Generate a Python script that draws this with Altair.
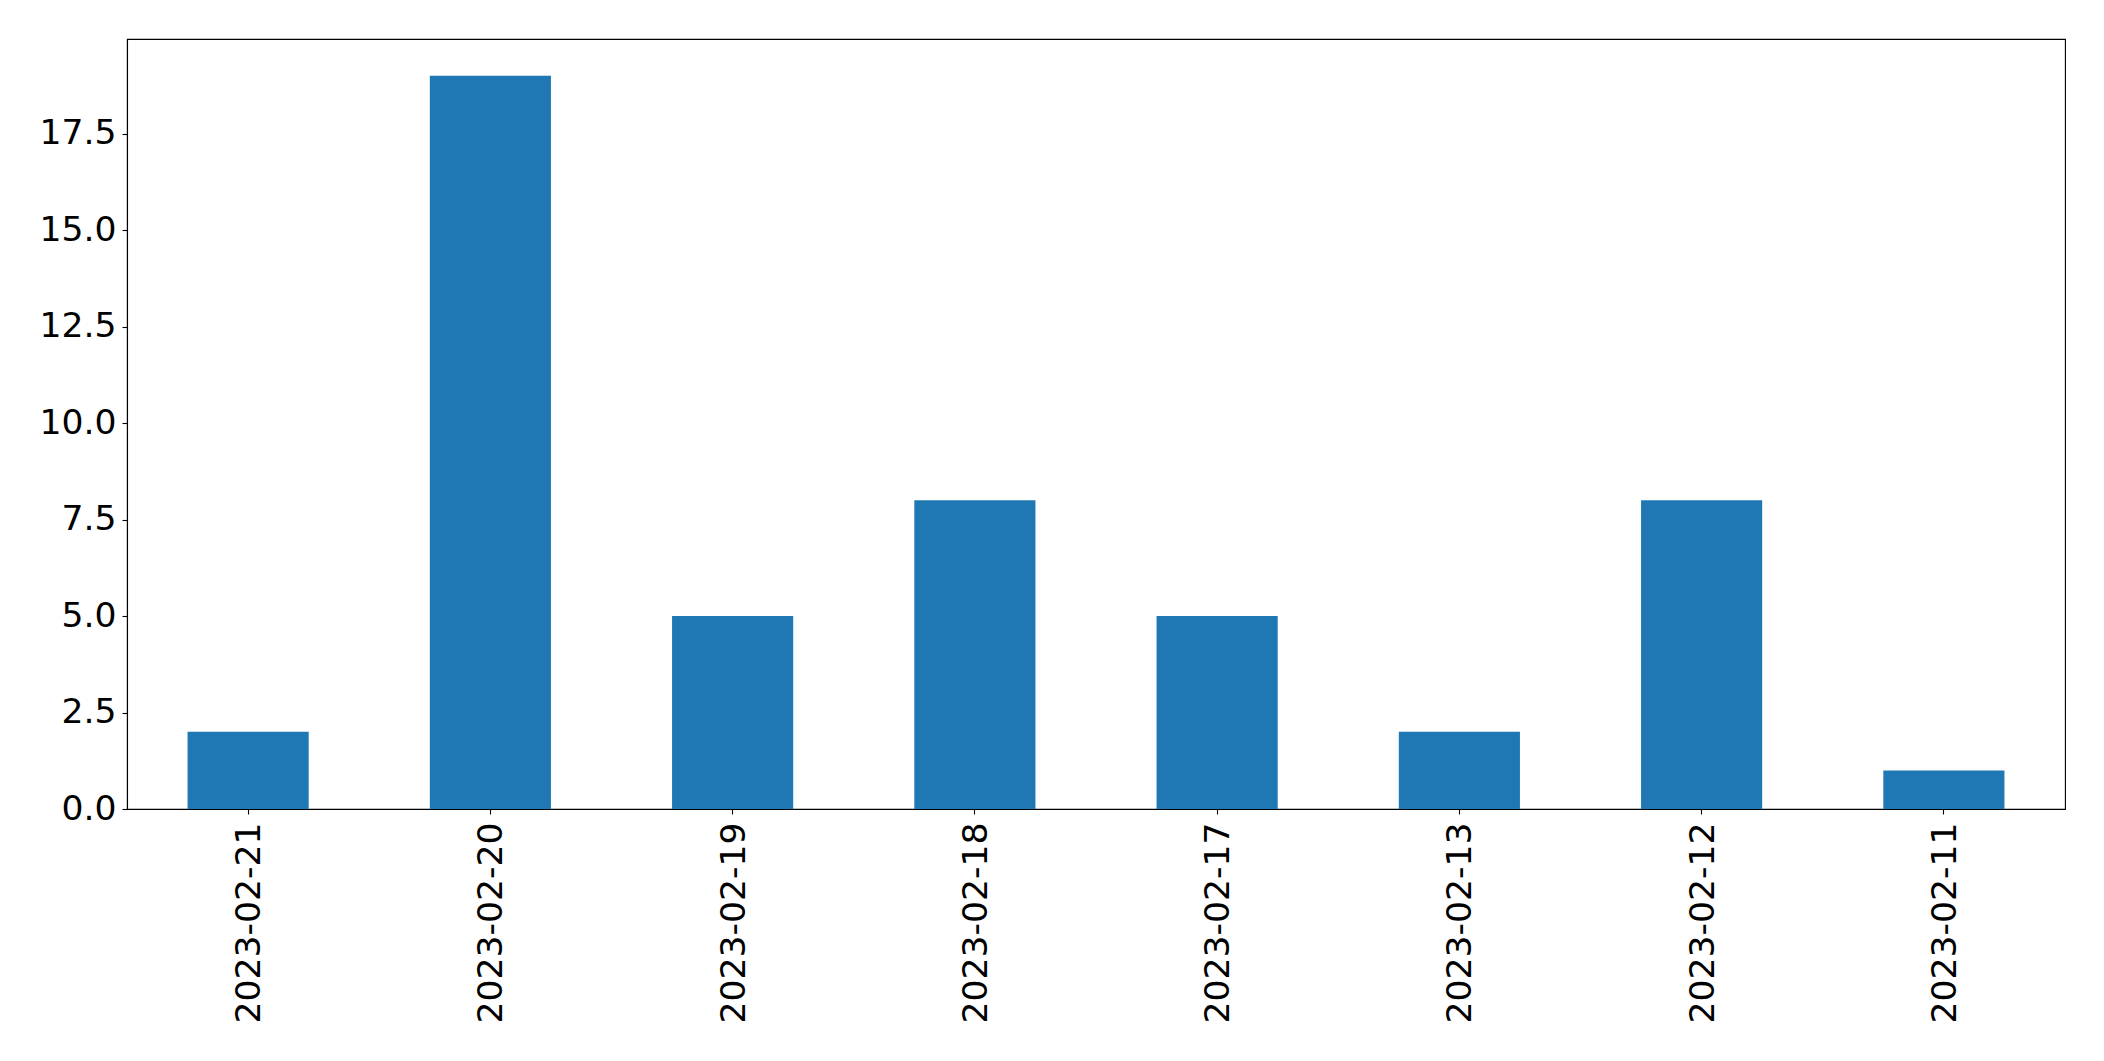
import altair as alt
import pandas as pd

dates = ["2023-02-21", "2023-02-20", "2023-02-19", "2023-02-18",
         "2023-02-17", "2023-02-13", "2023-02-12", "2023-02-11"]
counts = [2, 19, 5, 8, 5, 2, 8, 1]
y_ticks = [0, 2.5, 5, 7.5, 10, 12.5, 15, 17.5]

df = pd.DataFrame({"date": dates, "count": counts})

FONT = "DejaVu Sans"
FS = 34.6

chart = alt.Chart(df).mark_bar(color="#1f77b4").encode(
    x=alt.X("date:N", sort=None, title=None,
            scale=alt.Scale(paddingInner=0.5, paddingOuter=0.25),
            axis=alt.Axis(labelAngle=270, labelFontSize=FS, labelFont=FONT,
                          labelColor="black", tickColor="black", tickSize=5,
                          tickWidth=1.1, domainColor="black", domainWidth=1.1,
                          labelPadding=8, labelBaseline="middle", labelAlign="right",
                          labelLimit=0, labelOffset=2, grid=False)),
    y=alt.Y("count:Q", title=None,
            scale=alt.Scale(domain=[0, 19.95], nice=False, zero=True),
            axis=alt.Axis(values=y_ticks, format=".1f", labelFontSize=FS,
                          labelFont=FONT, labelColor="black", tickColor="black",
                          tickSize=5, tickWidth=1.1, domainColor="black",
                          domainWidth=1.1, labelPadding=6, labelLimit=0, grid=False)),
).properties(
    width=1938, height=770,
    autosize=alt.AutoSizeParams(type="none"),
    padding={"left": 119, "top": 31, "right": 25, "bottom": 235},
).configure(
    background="white"
).configure_view(
    stroke="black", strokeWidth=1.1
)

chart.save("out.html", embed_options={"renderer": "svg", "actions": False})
